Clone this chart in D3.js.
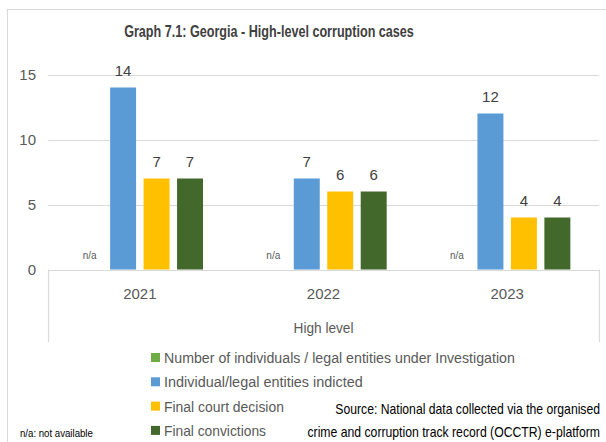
<!DOCTYPE html>
<html>
<head>
<meta charset="utf-8">
<script src="https://cdn.jsdelivr.net/npm/d3@7"></script>
<style>
  body { margin: 0; background: #fff; }
  svg text { font-family: "Liberation Sans", Arial, sans-serif; }
</style>
</head>
<body>
<div id="chart"></div>
<script>
// data
const years = ["2021", "2022", "2023"];
const seriesNames = [
  "Number of individuals / legal entities under Investigation",
  "Individual/legal entities indicted",
  "Final court decision",
  "Final convictions"
];
const colors = ["#70ad47", "#5b9bd5", "#ffc000", "#43682b"];
// null = n/a
const investigated = [null, null, null];
const indicted = [14, 7, 12];
const courtDecision = [7, 6, 4];
const convictions = [7, 6, 4];
const yTicks = [0, 5, 10, 15];

const width = 606;
const height = 442;
const plot = { left: 48, right: 599, top: 74.5, bottom: 269.5 };

const svg = d3.select("#chart").append("svg")
  .attr("width", width)
  .attr("height", height);

// squeeze a text horizontally to the width it takes in the reference
// (the reference uses a narrow font); scales around the anchor point
function fit(sel, w) {
  sel.each(function () {
    const t = d3.select(this);
    const x = +t.attr("x") || 0, yy = +t.attr("y") || 0;
    const k = w / this.getComputedTextLength();
    t.attr("x", 0).attr("y", 0)
      .attr("transform", "translate(" + x + "," + yy + ") scale(" + k + ",1)");
  });
}

// chart border
svg.append("rect")
  .attr("x", 7.5).attr("y", 9.5)
  .attr("width", 640).attr("height", 460)
  .attr("fill", "none")
  .attr("stroke", "#d9d9d9");

//----------------------------SCALES-----------------------------//
const allSeries = [investigated, indicted, courtDecision, convictions];

const x0 = d3.scaleBand().domain(years).range([plot.left, plot.right]);
const x1 = d3.scaleBand()
  .domain(seriesNames)
  .range([x0.bandwidth() * 0.156, x0.bandwidth() * 0.844])
  .paddingInner(0.224);
const y = d3.scaleLinear().domain([0, 15]).range([plot.bottom, plot.top]);

//----------------------------GRID-------------------------------//
svg.append("g")
  .selectAll("line")
  .data(yTicks)
  .enter().append("line")
  .attr("x1", plot.left).attr("x2", plot.right)
  .attr("y1", d => Math.round(y(d)) + 0.5)
  .attr("y2", d => Math.round(y(d)) + 0.5)
  .attr("stroke", "#d9d9d9")
  .attr("stroke-width", 1.2);

// y axis labels (no axis line in the reference)
const yaxis = d3.axisLeft(y).tickValues(yTicks).tickSize(0).tickPadding(12);
const gy = svg.append("g")
  .attr("transform", "translate(" + plot.left + ",0)")
  .call(yaxis);
gy.select(".domain").remove();
gy.selectAll("text")
  .style("font-size", "15px")
  .attr("fill", "#595959");

// category box edges
[plot.left, plot.right].forEach(function (xx) {
  svg.append("line")
    .attr("x1", xx + 0.5).attr("x2", xx + 0.5)
    .attr("y1", plot.bottom).attr("y2", 342)
    .attr("stroke", "#d9d9d9")
    .attr("stroke-width", 1.2);
});

// year labels
svg.append("g")
  .selectAll("text")
  .data(years)
  .enter().append("text")
  .attr("x", d => x0(d) + x0.bandwidth() / 2)
  .attr("y", 299)
  .attr("text-anchor", "middle")
  .style("font-size", "15px")
  .attr("fill", "#595959")
  .text(d => d);

svg.append("text")
  .attr("x", (plot.left + plot.right) / 2)
  .attr("y", 333)
  .attr("text-anchor", "middle")
  .style("font-size", "15px")
  .attr("fill", "#595959")
  .text("High level")
  .call(fit, 60);

//----------------------------BARS-------------------------------//
const groups = svg.selectAll(".year")
  .data(years)
  .enter().append("g")
  .attr("class", "year")
  .attr("transform", d => "translate(" + x0(d) + ",0)");

const cells = groups.selectAll("g.cell")
  .data(function (yr, i) {
    return seriesNames.map(function (s, j) {
      return { series: s, color: colors[j], value: allSeries[j][i] };
    });
  })
  .enter().append("g")
  .attr("class", "cell");

cells.filter(d => d.value !== null)
  .append("rect")
  .attr("x", d => x1(d.series))
  .attr("width", x1.bandwidth())
  .attr("y", d => y(d.value))
  .attr("height", d => y(0) - y(d.value))
  .attr("fill", d => d.color);

cells.append("text")
  .attr("x", d => x1(d.series) + x1.bandwidth() / 2)
  .attr("y", d => d.value === null ? y(0) - 11 : y(d.value) - 12)
  .attr("text-anchor", "middle")
  .style("font-size", d => d.value === null ? "10px" : "15px")
  .attr("fill", d => d.value === null ? "#595959" : "#404040")
  .text(d => d.value === null ? "n/a" : d.value);

//----------------------------TITLE------------------------------//
svg.append("text")
  .attr("x", 269)
  .attr("y", 37)
  .attr("text-anchor", "middle")
  .style("font-size", "16px")
  .style("font-weight", "bold")
  .attr("fill", "#404040")
  .text("Graph 7.1: Georgia - High-level corruption cases")
  .call(fit, 290);

//----------------------------LEGEND-----------------------------//
const legendWidths = [351, 199, 120, 102];
const legend = svg.selectAll(".legend")
  .data(seriesNames)
  .enter().append("g")
  .attr("class", "legend")
  .attr("transform", (d, i) => "translate(151," + (358 + i * 24.3) + ")");

legend.append("rect")
  .attr("x", 0).attr("y", -5)
  .attr("width", 9).attr("height", 9)
  .attr("fill", (d, i) => colors[i]);

legend.append("text")
  .attr("x", 13)
  .attr("y", 5)
  .style("font-size", "15px")
  .attr("fill", "#595959")
  .text(d => d)
  .each(function (d, i) { d3.select(this).call(fit, legendWidths[i]); });

//----------------------------NOTES------------------------------//
svg.append("text")
  .attr("x", 600).attr("y", 414)
  .attr("text-anchor", "end")
  .style("font-size", "14px")
  .attr("fill", "#000")
  .text("Source: National data collected via the organised")
  .call(fit, 265);
svg.append("text")
  .attr("x", 600).attr("y", 437)
  .attr("text-anchor", "end")
  .style("font-size", "14px")
  .attr("fill", "#000")
  .text("crime and corruption track record (OCCTR) e-platform")
  .call(fit, 293);

svg.append("text")
  .attr("x", 20).attr("y", 437)
  .style("font-size", "10px")
  .attr("fill", "#000")
  .text("n/a: not available")
  .call(fit, 73);
</script>
</body>
</html>
